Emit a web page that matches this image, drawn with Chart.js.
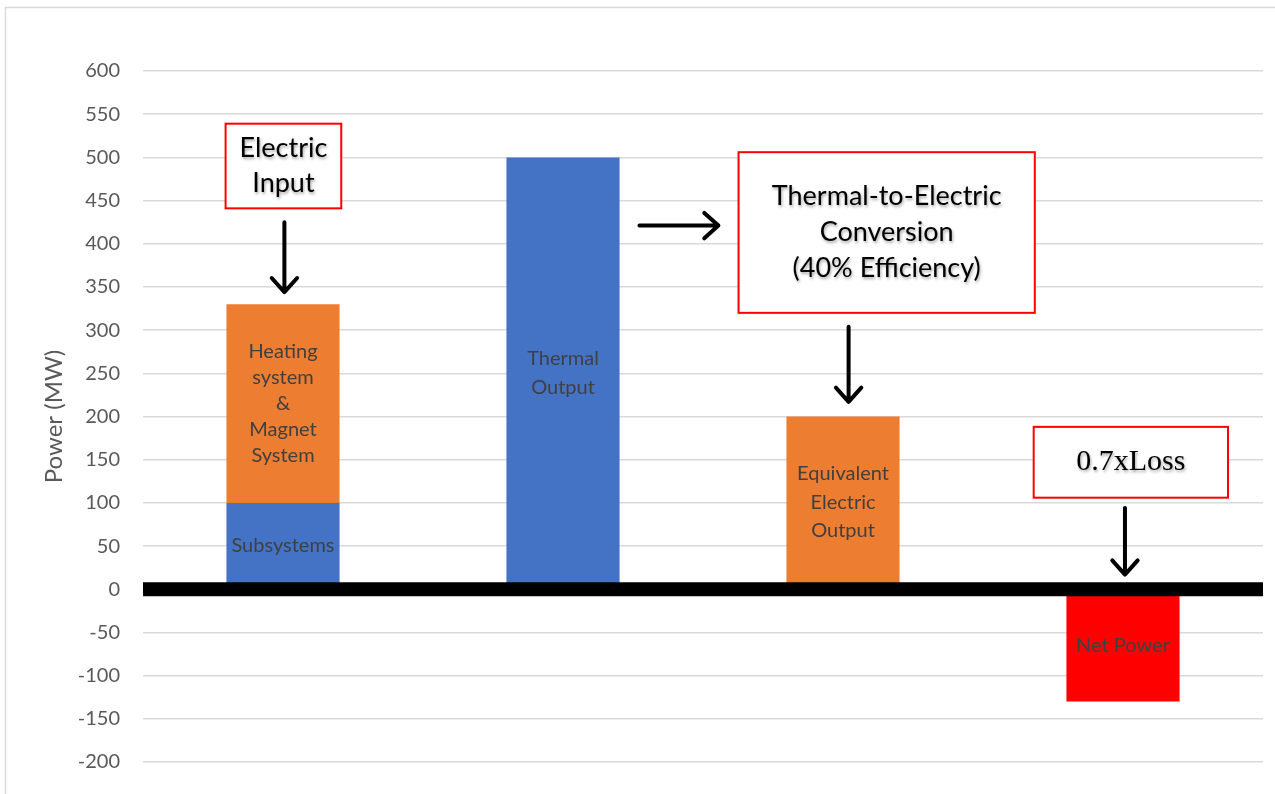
<!DOCTYPE html>
<html>
<head>
<meta charset="utf-8">
<script src="https://cdn.jsdelivr.net/npm/chart.js@4/dist/chart.umd.min.js"></script>
<style>
  html, body { margin: 0; padding: 0; background: #ffffff; }
  #wrap { width: 1275px; height: 794px; }
</style>
</head>
<body>
<div id="wrap"><canvas id="chart" width="1275" height="794"></canvas></div>
<script>
// Power balance categories
const categories = ['Electric Input', 'Thermal Output', 'Electric Output', 'Net Power'];

// Series values (MW), one stack per category
const subsystems     = [100, null, null, null];
const heatingMagnet  = [230, null, null, null];
const thermalOutput  = [null, 500, null, null];
const electricOutput = [null, null, 200, null];
const netPower       = [null, null, null, -130];

// Y axis range and tick step (MW)
const yMin = -200;
const yMax = 600;
const yStep = 50;

// Text written inside each bar segment
const subsystemsLabel     = ['Subsystems'];
const heatingMagnetLabel  = ['Heating', 'system', '&', 'Magnet', 'System'];
const thermalOutputLabel  = ['Thermal', 'Output'];
const electricOutputLabel = ['Equivalent', 'Electric', 'Output'];
const netPowerLabel       = ['Net Power'];

const BLUE = '#4472C4';
const ORANGE = '#ED7D31';
const RED = '#FF0000';
const UI_FONT = 'Lato, "Open Sans", "DejaVu Sans", sans-serif';

// Red callout boxes, placed in category/value space
const callouts = [
  { lines: ['Electric', 'Input'], x0: -0.205, x1: 0.208, yTop: 539, yBot: 441,
    font: '27px ' + UI_FONT, lineGap: 35 },
  { lines: ['Thermal-to-Electric', 'Conversion', '(40% Efficiency)'], x0: 1.627, x1: 2.685, yTop: 506, yBot: 320,
    font: '27px ' + UI_FONT, lineGap: 36 },
  { lines: ['0.7xLoss'], x0: 2.681, x1: 3.375, yTop: 188, yBot: 106,
    font: '30px "Liberation Serif", "Times New Roman", serif', lineGap: 30 }
];

// Arrows between callouts and bars (from -> to)
const arrows = [
  { x0: 0.005, y0: 425, x1: 0.005, y1: 344 },
  { x0: 1.273, y0: 421, x1: 1.555, y1: 421 },
  { x0: 2.02,  y0: 304, x1: 2.02,  y1: 217 },
  { x0: 3.007, y0: 94,  x1: 3.007, y1: 17 }
];

function makeSet(label, data, color, lines, lineGap) {
  return {
    label: label,
    data: data,
    backgroundColor: color,
    borderWidth: 0,
    lines: lines,
    lineGap: lineGap,
    categoryPercentage: 1.0,
    barPercentage: 0.404
  };
}

// Outer frame of the chart area
const framePlugin = {
  id: 'frame',
  beforeDraw(chart) {
    const ctx = chart.ctx;
    ctx.save();
    ctx.fillStyle = '#ffffff';
    ctx.fillRect(0, 0, chart.width, chart.height);
    ctx.strokeStyle = '#d9d9d9';
    ctx.lineWidth = 1.5;
    ctx.beginPath();
    ctx.moveTo(5.5, chart.height);
    ctx.lineTo(5.5, 7.5);
    ctx.lineTo(chart.width, 7.5);
    ctx.stroke();
    ctx.restore();
  }
};

// Thick baseline at zero, bar captions, callouts and arrows
const overlayPlugin = {
  id: 'overlay',
  afterDatasetsDraw(chart) {
    const ctx = chart.ctx;
    const xs = chart.scales.x;
    const ys = chart.scales.y;
    const area = chart.chartArea;

    // zero line
    const y0 = ys.getPixelForValue(0);
    ctx.save();
    ctx.fillStyle = '#000000';
    ctx.fillRect(area.left, y0 - 7, area.right - area.left, 14);
    ctx.restore();

    // captions inside bars
    chart.data.datasets.forEach((ds, di) => {
      const meta = chart.getDatasetMeta(di);
      meta.data.forEach((bar, i) => {
        if (ds.data[i] === null || ds.data[i] === undefined) return;
        const props = bar.getProps(['x', 'y', 'base'], true);
        const cy = (props.y + props.base) / 2;
        ctx.save();
        ctx.fillStyle = '#404040';
        ctx.font = '20px ' + UI_FONT;
        ctx.textAlign = 'center';
        ctx.textBaseline = 'middle';
        const n = ds.lines.length;
        ds.lines.forEach((t, k) => {
          ctx.fillText(t, props.x, cy + (k - (n - 1) / 2) * ds.lineGap);
        });
        ctx.restore();
      });
    });

    // callout boxes
    callouts.forEach(c => {
      const left = xs.getPixelForValue(c.x0);
      const right = xs.getPixelForValue(c.x1);
      const top = ys.getPixelForValue(c.yTop);
      const bot = ys.getPixelForValue(c.yBot);
      ctx.save();
      ctx.fillStyle = '#ffffff';
      ctx.fillRect(left, top, right - left, bot - top);
      ctx.strokeStyle = RED;
      ctx.lineWidth = 2;
      ctx.strokeRect(left, top, right - left, bot - top);
      ctx.fillStyle = '#000000';
      ctx.font = c.font;
      ctx.textAlign = 'center';
      ctx.textBaseline = 'middle';
      ctx.shadowColor = 'rgba(0,0,0,0.35)';
      ctx.shadowBlur = 3;
      ctx.shadowOffsetX = 1;
      ctx.shadowOffsetY = 1.5;
      const cx = (left + right) / 2;
      const cy = (top + bot) / 2;
      const n = c.lines.length;
      c.lines.forEach((t, k) => {
        ctx.fillText(t, cx, cy + (k - (n - 1) / 2) * c.lineGap);
      });
      ctx.restore();
    });

    // arrows
    arrows.forEach(a => {
      const px0 = xs.getPixelForValue(a.x0);
      const py0 = ys.getPixelForValue(a.y0);
      const px1 = xs.getPixelForValue(a.x1);
      const py1 = ys.getPixelForValue(a.y1);
      const ang = Math.atan2(py1 - py0, px1 - px0);
      const head = 19;
      const spread = 42 * Math.PI / 180;
      ctx.save();
      ctx.strokeStyle = '#000000';
      ctx.lineWidth = 4;
      ctx.lineCap = 'round';
      ctx.lineJoin = 'round';
      ctx.beginPath();
      ctx.moveTo(px0, py0);
      ctx.lineTo(px1, py1);
      ctx.moveTo(px1 - head * Math.cos(ang - spread), py1 - head * Math.sin(ang - spread));
      ctx.lineTo(px1, py1);
      ctx.lineTo(px1 - head * Math.cos(ang + spread), py1 - head * Math.sin(ang + spread));
      ctx.stroke();
      ctx.restore();
    });
  }
};

new Chart(document.getElementById('chart'), {
  type: 'bar',
  data: {
    labels: categories,
    datasets: [
      makeSet('Subsystems', subsystems, BLUE, subsystemsLabel, 28),
      makeSet('Heating system & Magnet System', heatingMagnet, ORANGE, heatingMagnetLabel, 26),
      makeSet('Thermal Output', thermalOutput, BLUE, thermalOutputLabel, 29),
      makeSet('Equivalent Electric Output', electricOutput, ORANGE, electricOutputLabel, 28.5),
      makeSet('Net Power', netPower, RED, netPowerLabel, 28)
    ]
  },
  options: {
    responsive: false,
    animation: false,
    layout: { padding: { left: 0, top: 71, right: 12, bottom: 32 } },
    plugins: {
      legend: { display: false },
      tooltip: { enabled: false }
    },
    scales: {
      x: {
        stacked: true,
        display: false,
        grid: { display: false }
      },
      y: {
        stacked: true,
        min: yMin,
        max: yMax,
        afterFit(scale) {
          scale.width = 143;
          scale.paddingTop = 0;
          scale.paddingBottom = 0;
        },
        ticks: {
          stepSize: yStep,
          color: '#595959',
          padding: 23,
          font: { family: UI_FONT, size: 20 }
        },
        grid: {
          color: '#d9d9d9',
          lineWidth: 1.5,
          drawTicks: false
        },
        border: { display: false },
        title: {
          display: true,
          text: 'Power (MW)',
          color: '#595959',
          font: { family: UI_FONT, size: 24 },
          padding: { top: 40, bottom: 0 }
        }
      }
    }
  },
  plugins: [framePlugin, overlayPlugin]
});
</script>
</body>
</html>
